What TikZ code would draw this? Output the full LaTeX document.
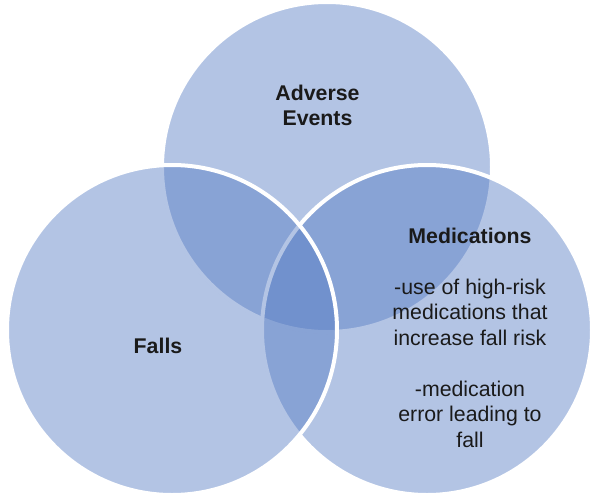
\documentclass[tikz,border=0pt]{standalone}
\usepackage{fontspec}
\setmainfont{Liberation Sans}
\definecolor{vennblue}{RGB}{82,121,194}
\definecolor{labelgray}{RGB}{26,26,26}
\begin{document}
\begin{tikzpicture}[x=1pt,y=-1pt,
  setdisc/.style={fill=vennblue, fill opacity=0.44, draw=white, line width=4pt},
  lbl/.style={inner sep=0pt, text=labelgray, anchor=base,
              font=\fontsize{21.3}{25.5}\selectfont}]
\useasboundingbox (0,0) rectangle (592,496);

% three overlapping sets: top, right, then left drawn last
\path[setdisc] (327,167) circle[radius=165];
\path[setdisc] (427,330) circle[radius=165];
\path[setdisc] (172,330) circle[radius=165];

% set labels
\node[lbl] (adverse) at (317.5,100)
  {\begin{tabular}[t]{@{}c@{}}\bfseries Adverse\\\bfseries Events\end{tabular}};
\node[lbl] (falls) at (158,353) {\bfseries Falls};
\node[lbl] (meds) at (470,243)
  {\begin{tabular}[t]{@{}c@{}}
   \bfseries Medications\\
   \\
   -use of high-risk\\
   medications that\\
   increase fall risk\\
   \\
   -medication\\
   error leading to\\
   fall
   \end{tabular}};
\end{tikzpicture}
\end{document}
